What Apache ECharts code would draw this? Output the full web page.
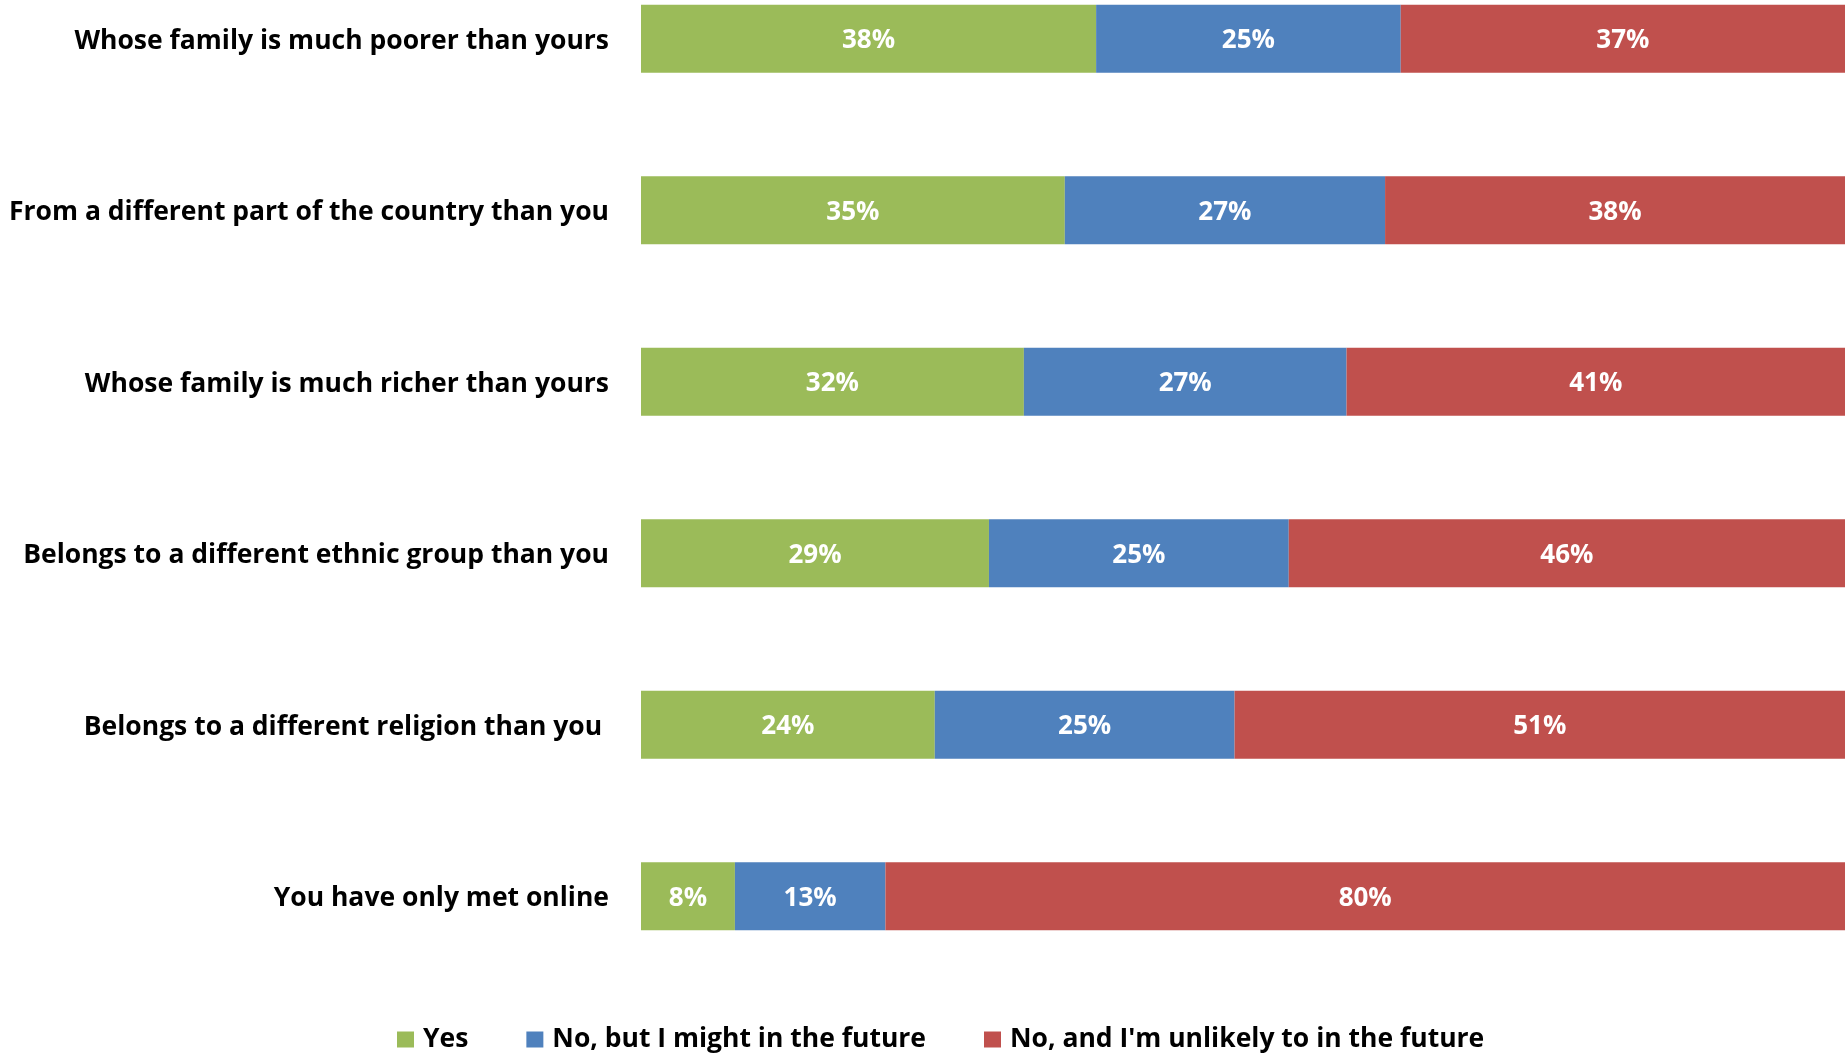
<!DOCTYPE html>
<html>
<head>
<meta charset="utf-8">
<script src="https://cdn.jsdelivr.net/npm/echarts@6/dist/echarts.min.js"></script>
<style>
html,body{margin:0;padding:0;background:#fff;overflow:hidden;}
#chart{width:1845px;height:1102px;margin-top:-47px;}
</style>
</head>
<body>
<div id="chart"></div>
<script>
const categories = [
  "Whose family is much poorer than yours",
  "From a different part of the country than you",
  "Whose family is much richer than yours",
  "Belongs to a different ethnic group than you",
  "Belongs to a different religion than you ",
  "You have only met online"
];
const seriesNames = ["Yes", "No, but I might in the future", "No, and I'm unlikely to in the future"];
const yesValues = [37.8, 35.2, 31.8, 28.9, 24.4, 7.8];
const mightValues = [25.3, 26.6, 26.8, 24.9, 24.9, 12.5];
const unlikelyValues = [36.9, 38.2, 41.4, 46.2, 50.7, 79.7];
const colors = ["#9BBB59", "#4F81BD", "#C0504D"];

const FONT = "Open Sans";
const chart = echarts.init(document.getElementById('chart'), null, {renderer: 'canvas'});

function mkSeries(name, data, color) {
  return {
    name: name,
    type: 'bar',
    stack: 'total',
    data: data,
    barWidth: 68,
    itemStyle: {color: color},
    label: {
      show: true,
      position: 'inside',
      offset: [0, 2],
      color: '#fff',
      fontFamily: FONT,
      fontWeight: 'bold',
      fontSize: 26,
      formatter: p => Math.round(p.value) + '%'
    },
    emphasis: {disabled: true}
  };
}

chart.setOption({
  animation: false,
  backgroundColor: '#fff',
  grid: {left: 641, right: 0, top: 0, bottom: 73, containLabel: false, outerBoundsMode: 'none'},
  xAxis: {
    type: 'value', min: 0, max: 100, show: false
  },
  yAxis: {
    type: 'category',
    data: categories,
    inverse: true,
    axisLine: {show: false},
    axisTick: {show: false},
    axisLabel: {
      margin: 32,
      color: '#000',
      fontFamily: FONT,
      fontWeight: 'bold',
      fontSize: 26.5,
      formatter: v => '{a|' + v + '}',
      rich: {
        a: {
          color: '#000',
          fontFamily: FONT,
          fontWeight: 'bold',
          fontSize: 26.5,
          padding: [5, 0, 0, 0]
        }
      }
    }
  },
  legend: {
    left: 392,
    top: 1068,
    itemWidth: 17,
    itemHeight: 16,
    itemGap: 58,
    icon: 'rect',
    data: seriesNames,
    textStyle: {
      color: '#000',
      fontFamily: FONT,
      fontWeight: 'bold',
      fontSize: 26.5,
      padding: [0, 0, 0, 4]
    }
  },
  series: [
    mkSeries(seriesNames[0], yesValues, colors[0]),
    mkSeries(seriesNames[1], mightValues, colors[1]),
    mkSeries(seriesNames[2], unlikelyValues, colors[2])
  ]
});
</script>
</body>
</html>
